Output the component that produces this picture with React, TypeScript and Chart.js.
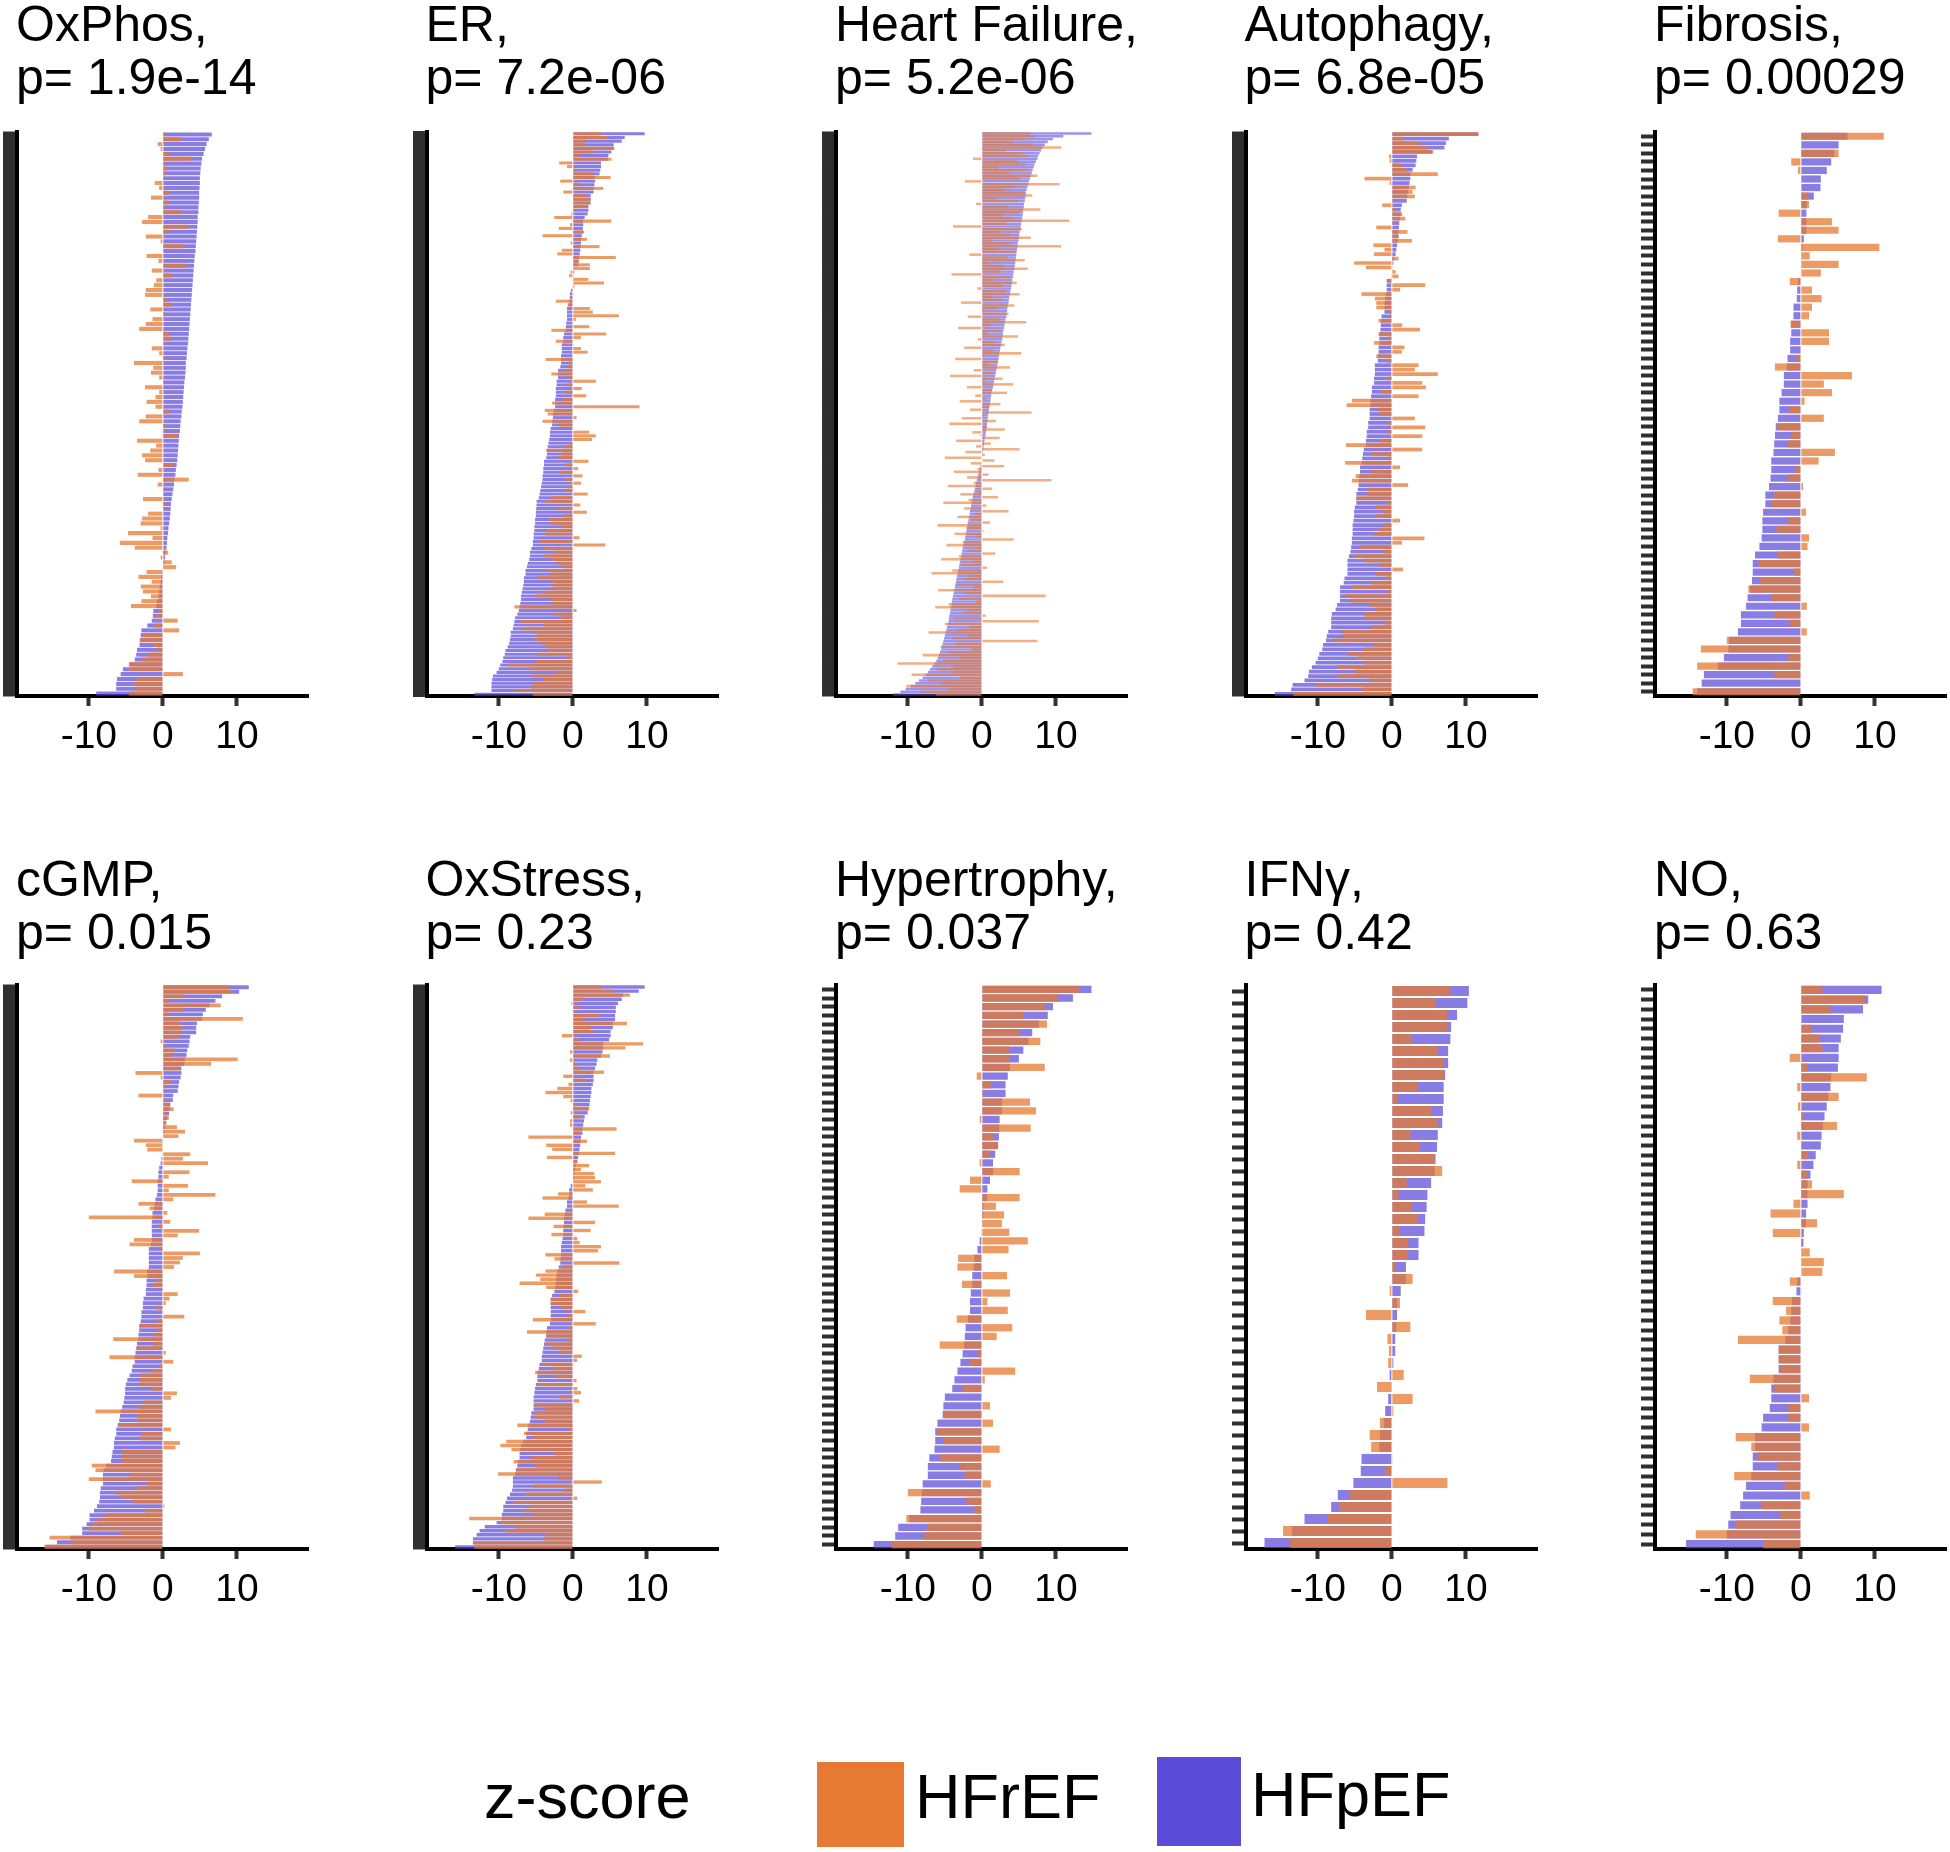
import React, { useEffect, useRef } from "react";
import { Chart, registerables } from "chart.js";

Chart.register(...registerables);

// ---------------- data (z-scores per gene, genes sorted by HFpEF) ----------------
const xTicks = [-10, 0, 10];
const seriesNames = ["HFrEF", "HFpEF"];

const oxphosHFpEF = [6.6,6.2,5.9,5.7,5.5,5.3,5.2,5.1,5.05,5.0, 5.0,4.95,4.9,4.9,4.85,4.8,4.8,4.7,4.7,4.65, 4.6,4.55,4.5,4.45,4.4,4.3,4.25,4.2,4.15,4.1, 4.05,4.0,3.95,3.9,3.85,3.8,3.75,3.7,3.65,3.6, 3.55,3.5,3.45,3.4,3.3,3.25,3.2,3.1,3.1,3.05, 3.0,2.9,2.85,2.8,2.75,2.7,2.65,2.55,2.5,2.4, 2.35,2.3,2.2,2.15,2.1,2.05,2.0,1.95,1.85,1.75, 1.7,1.55,1.5,1.4,1.3,1.2,1.1,1.05,1.0,0.95, 0.85,0.75,0.7,0.6,0.55,0.5,0.4,0.3,0.2,0.1, -0.1,-0.2,-0.3,-0.4,-0.5,-0.6,-0.8,-0.9,-1.3,-1.35, -1.5,-2.1,-2.9,-3.0,-3.1,-3.15,-3.5,-3.6,-3.8,-4.5, -5.4,-5.7,-6.2,-6.3,-6.3,-9.0];
const oxphosHFrEF = [0.3,2.5,-0.7,-0.3,0.9,3.8,0.2,0.6,0.4,0.2, -1.1,-0.5,0.8,-1.6,0.8,0.2,2.5,-2.0,-2.8,3.3, 0.6,-2.3,-0.3,2.8,0.1,-2.2,-0.6,3.2,-1.5,1.3, -0.9,-1.2,-2.3,-2.4,0.5,1.1,-1.7,0.4,-1.4,-2.3, -3.2,0.8,1.1,0.1,-1.5,-0.5,0.3,-3.9,-1.3,-1.6, -0.5,0.2,-2.4,-0.5,-1.0,-2.2,-1.0,0.9,-2.3,-3.2, 0.5,-0.1,2.1,-3.5,-0.9,-1.7,-2.8,-2.4,1.4,-0.6, -3.4,3.5,-0.7,0.2,0.1,-2.7,0.5,0.2,-2.0,-2.8, -3.0,-0.3,-4.7,-1.4,-5.8,-3.8,0.7,-0.3,1.2,1.8, -2.2,-3.3,-1.5,-3.0,-2.7,-1.6,-2.9,-4.3,-0.5,-1.0, 2.0,-1.2,2.2,-2.6,-3.1,-1.4,-0.7,-2.0,-2.8,-4.6, -4.6,2.7,-3.5,-4.0,-3.7,-4.6];

const erHFpEF = [9.7,7.0,6.6,5.5,5.5,5.2,4.8,4.7,3.8,3.8, 3.7,3.6,3.0,3.0,2.9,2.8,2.8,2.4,2.4,2.4, 2.1,2.1,2.0,1.6,1.4,1.4,1.35,1.35,1.2,1.1, 1.1,1.1,1.0,0.95,0.8,0.8,0.7,0.1,0.2,0.1, 0.05,0.0,-0.05,-0.2,-0.4,-0.4,-0.5,-0.6,-0.8,-0.8, -0.8,-0.8,-0.9,-0.95,-1.0,-1.2,-1.3,-1.3,-1.5,-1.5, -1.5,-1.6,-1.6,-1.6,-1.7,-2.0,-2.0,-2.0,-2.2,-2.2, -2.3,-2.3,-2.3,-2.4,-2.4,-2.4,-2.6,-2.7,-2.7,-2.8, -2.8,-3.0,-3.1,-3.1,-3.2,-3.3,-3.4,-3.5,-3.5,-3.6, -3.9,-3.9,-4.0,-4.0,-4.1,-4.1,-4.2,-4.3,-4.4,-4.5, -4.6,-4.9,-4.9,-4.95,-5.0,-5.0,-5.1,-5.1,-5.2,-5.2, -5.3,-5.3,-5.4,-5.4,-5.6,-5.8,-5.8,-5.9,-6.1,-6.2, -6.4,-6.4,-6.6,-6.6,-6.7,-6.8,-6.9,-7.0,-7.0,-7.1, -7.2,-7.3,-7.5,-7.8,-7.9,-8.0,-8.1,-8.4,-8.4,-8.5, -8.6,-8.8,-9.1,-9.2,-9.4,-9.5,-9.8,-10.0,-10.3,-10.8, -10.9,-11.0,-11.0,-11.0,-13.3];
const erHFrEF = [3.8,4.7,1.7,1.7,5.6,2.8,0.8,5.2,-1.85,-0.8, 0.5,2.8,5.1,-1.7,0.9,4.1,-1.3,1.8,2.4,2.3, 2.0,0.3,-0.2,-2.5,5.2,-0.4,-1.9,1.5,-4.1,1.9, -0.3,3.6,-1.5,-2.1,5.8,0.8,2.3,2.3,-0.3,-0.5, 2.1,4.2,0.2,-0.3,0.1,-0.2,-2.3,-0.7,2.3,2.7, 6.2,0.4,-0.2,2.2,-2.9,4.5,1.1,-2.3,0.1,1.1, 2.0,0.0,-3.7,-0.5,-0.7,-1.0,-2.9,-0.6,3.1,-0.8, 1.2,-1.1,1.8,-1.4,-2.8,9.0,-3.8,-3.4,0.5,-4.1, -1.8,0.0,2.2,3.1,2.6,-0.5,-1.2,-3.6,-1.5,-2.0, 2.1,-1.0,0.7,-1.9,1.3,-0.9,1.1,-0.8,-1.0,2.0, -2.9,-3.8,1.0,-2.2,1.9,-1.2,-3.2,-3.0,-1.5,-3.6, -3.7,0.9,-4.5,4.4,-3.9,-2.3,-4.0,-3.0,-2.0,-1.3, -3.5,-3.0,-4.8,-3.0,-2.5,-3.1,-4.1,-5.1,-3.1,-2.6, -7.9,0.5,-2.6,-1.5,-7.1,-3.9,-6.8,-5.3,-4.8,-5.3, -4.3,-3.6,-3.5,-4.8,-0.8,-5.0,-8.8,-5.8,-2.4,-5.5, -4.0,-5.4,-5.6,-7.9,-5.4];

const hfHFpEF = [14.8,11.0,9.6,8.9,8.5,8.2,8.0,7.8,7.6,7.5, 7.3,7.1,7.0,6.85,6.75,6.6,6.5,6.35,6.25,6.15, 6.05,5.95,5.9,5.85,5.8,5.7,5.65,5.6,5.55,5.5, 5.45,5.4,5.3,5.25,5.2,5.1,5.05,5.0,4.95,4.85, 4.8,4.75,4.7,4.65,4.6,4.55,4.5,4.45,4.4,4.3, 4.25,4.2,4.1,4.05,4.0,3.95,3.85,3.8,3.7,3.65, 3.6,3.5,3.45,3.4,3.35,3.3,3.2,3.1,3.05,3.0, 2.9,2.85,2.8,2.75,2.65,2.6,2.5,2.45,2.35,2.3, 2.25,2.15,2.1,2.05,1.95,1.9,1.8,1.7,1.65,1.55, 1.5,1.4,1.3,1.25,1.2,1.15,1.1,1.0,0.95,0.9, 0.85,0.8,0.75,0.7,0.65,0.6,0.55,0.5,0.4,0.35, 0.3,0.25,0.2,0.15,0.1,0.05,0.0,-0.1,-0.2,-0.3, -0.4,-0.5,-0.6,-0.7,-0.8,-0.85,-0.95,-1.05,-1.15,-1.25, -1.3,-1.4,-1.45,-1.5,-1.6,-1.65,-1.75,-1.8,-1.9,-1.95, -2.0,-2.1,-2.15,-2.25,-2.3,-2.4,-2.5,-2.6,-2.65,-2.75, -2.8,-2.9,-2.95,-3.05,-3.1,-3.2,-3.3,-3.35,-3.45,-3.5, -3.6,-3.65,-3.75,-3.8,-3.9,-4.0,-4.05,-4.1,-4.2,-4.25, -4.3,-4.4,-4.45,-4.5,-4.6,-4.7,-4.8,-4.9,-5.0,-5.1, -5.2,-5.3,-5.4,-5.5,-5.65,-5.8,-5.95,-6.15,-6.4,-6.7, -7.0,-7.3,-7.6,-8.0,-8.5,-9.0,-9.6,-10.3,-11.0,-12.0];
const hfHFrEF = [6.5,7.2,5.8,4.1,6.9,10.7,3.2,5.5,6.1,-1.2, 4.8,5.9,2.1,6.3,3.7,7.5,5.2,-2.3,10.5,4.4, 3.1,5.6,6.8,1.9,4.9,-0.8,3.6,7.9,5.0,2.8, 4.2,11.8,3.3,-3.9,5.4,2.6,4.0,6.6,1.4,3.9, 10.7,2.2,4.6,-1.7,3.5,5.8,0.9,3.0,6.2,2.5, -4.1,3.8,1.6,4.7,2.9,-0.6,3.3,5.1,1.2,2.7, -2.8,4.4,2.0,0.4,3.6,-1.9,2.4,6.0,1.1,-3.2, 2.6,0.8,4.9,-0.5,1.8,3.1,-2.4,1.5,5.3,0.2, -3.6,2.2,0.9,3.8,-1.1,1.6,-4.3,2.8,0.5,4.2, -2.0,1.3,3.4,-0.9,0.6,-3.0,2.5,1.0,-1.6,6.7, 0.3,-2.7,1.9,-4.4,0.7,3.1,-1.3,-0.2,2.4,-3.5, 1.2,-0.8,5.1,-2.2,0.4,-5.0,1.7,-1.5,3.0,-0.6, -3.8,0.9,-2.0,9.4,-1.1,-4.6,1.4,-0.7,-2.9,2.2, -1.8,-5.2,0.6,-2.4,3.6,-0.9,-3.3,-1.4,1.1,-6.0, -2.1,0.2,-3.7,-1.0,4.3,-2.6,-4.8,-0.5,-1.9,1.8, -3.1,-5.5,-1.2,-2.8,0.7,-4.0,-6.8,-1.7,-2.5,2.9, -3.4,-1.1,-5.9,-2.2,8.6,-3.0,-0.8,-4.5,-6.3,-1.9, -2.7,0.5,-3.9,7.7,-5.0,-1.6,-3.3,-7.2,-2.0,-4.1, 7.5,-3.5,-5.6,-1.4,-4.4,-8.0,-2.9,-5.2,-11.4,-3.8, -6.1,-4.2,-9.5,-3.0,-7.4,-5.5,-10.2,-4.6,-8.3,-6.2];

const autophagyHFpEF = [11.7,7.7,7.3,7.1,5.4,3.4,3.3,3.2,2.8,2.5, 2.5,2.4,2.3,2.2,2.1,2.0,1.35,1.2,1.2,1.1, 1.0,0.95,0.9,0.9,0.8,0.7,0.6,0.5,0.3,0.2, 0.1,0.0,-0.1,-0.7,-0.7,-0.7,-0.8,-0.9,-1.0,-1.0, -1.0,-1.4,-1.5,-1.5,-1.55,-1.7,-1.7,-1.7,-1.8,-1.8, -1.9,-1.9,-2.3,-2.3,-2.3,-2.4,-2.4,-2.7,-2.7,-2.8, -2.9,-2.9,-3.0,-3.0,-3.0,-3.2,-3.2,-3.4,-3.4,-3.5, -3.5,-3.8,-3.9,-4.0,-4.1,-4.3,-4.3,-4.4,-4.45,-4.5, -4.6,-4.8,-4.8,-4.8,-5.0,-5.1,-5.1,-5.2,-5.3,-5.3, -5.3,-5.4,-5.4,-5.5,-5.6,-5.8,-6.0,-6.0,-6.0,-6.0, -6.4,-6.5,-7.0,-7.0,-7.0,-7.0,-7.4,-7.6,-8.1,-8.2, -8.2,-8.2,-8.6,-8.8,-8.9,-9.3,-9.4,-9.8,-10.0,-10.3, -10.8,-11.2,-11.3,-11.8,-13.4,-13.6,-15.8];
const autophagyHFrEF = [11.6,1.6,3.6,4.7,5.6,-0.4,-0.3,1.3,2.0,6.2, -3.7,-0.3,3.2,2.8,3.1,0.2,-1.3,0.5,1.4,1.8, 0.3,-2.1,2.1,0.9,2.7,-2.5,-1.0,-2.4,0.9,-5.1, -3.5,0.5,0.9,-0.5,4.5,1.1,-4.1,-2.3,-2.1,-2.1, -0.4,-0.2,-1.8,1.4,3.8,-1.8,-0.5,-2.4,1.7,1.35, -2.1,-0.7,3.6,3.1,6.2,-0.6,4.1,4.6,-1.5,3.6, -5.4,-6.1,-1.8,-1.8,3.1,-0.6,4.5,-0.6,4.1,-1.7, -6.2,4.1,-2.8,-0.5,-6.3,1.1,-2.8,-4.9,-5.4,2.2, -3.4,-3.2,-4.8,-0.5,-2.2,-1.1,-2.2,1.1,-1.1,-1.8, -2.5,4.4,1.35,-4.3,-1.1,-5.1,-3.8,-1.7,1.5,-2.2, -0.8,-2.8,-5.5,-0.5,-6.2,-5.6,-3.1,-2.1,-3.8,-3.6, -1.0,-2.8,-6.8,-6.5,-7.9,-2.4,-3.9,-6.0,-4.6,-3.7, -7.3,-5.0,-7.3,-3.0,-10.2,-4.0,-13.3];

const fibrosisHFpEF = [6.3,5.1,4.5,4.1,3.5,2.7,2.65,1.75,0.8,0.75, 0.75,0.75,0.4,0.2,0.1,0.1,0.0,-0.4,-0.5,-0.55, -1.0,-1.0,-1.3,-1.3,-1.45,-1.45,-1.8,-1.9,-2.3,-2.3, -2.6,-2.9,-2.9,-3.1,-3.4,-3.5,-3.6,-3.7,-4.0,-4.0, -4.1,-4.3,-4.8,-4.8,-5.1,-5.2,-5.2,-5.3,-5.6,-6.2, -6.5,-6.5,-6.6,-6.9,-7.2,-7.4,-8.1,-8.1,-8.5,-9.7, -9.8,-10.4,-11.2,-13.1,-13.4,-14.0];
const fibrosisHFrEF = [11.2,0.0,5.1,-1.3,-0.4,0.1,0.0,1.0,1.1,-3.0, 4.2,5.1,-3.1,10.6,1.2,5.1,2.7,-1.5,1.5,2.8, 1.5,1.1,-1.4,3.8,3.8,-0.2,-0.6,-3.5,6.9,3.1, 4.2,0.5,-1.6,3.1,-3.2,-1.3,-1.8,4.6,2.4,-0.7, -1.7,0.3,-3.6,-4.0,0.7,-1.7,-3.3,1.1,0.9,-3.2, -5.7,-0.9,-5.5,-7.1,-4.0,0.8,-3.6,-1.5,0.8,-10.0, -13.5,-1.7,-14.0,-3.6,-0.1,-14.6];

const cgmpHFpEF = [11.6,10.3,8.0,7.1,6.3,5.8,5.4,5.3,4.6,4.5, 4.5,3.7,3.6,3.5,3.3,3.2,3.0,2.9,2.5,2.5, 2.4,2.2,2.1,2.0,1.4,1.35,1.0,0.9,0.85,0.6, 0.4,0.3,0.2,0.1,0.05,0.0,-0.05,-0.1,-0.2,-0.3, -0.5,-0.6,-0.6,-0.7,-0.7,-0.7,-0.8,-1.0,-1.1,-1.2, -1.4,-1.4,-1.5,-1.5,-1.5,-1.5,-1.5,-1.6,-1.9,-1.9, -1.9,-1.9,-1.9,-2.1,-2.1,-2.2,-2.2,-2.3,-2.3,-2.6, -2.7,-2.7,-2.9,-2.9,-3.0,-3.2,-3.2,-3.3,-3.3,-3.5, -3.6,-3.7,-3.8,-3.8,-4.1,-4.2,-4.5,-4.8,-5.0,-5.1, -5.1,-5.2,-5.3,-5.5,-5.7,-5.8,-5.9,-6.1,-6.3,-6.3, -6.5,-6.6,-6.6,-6.8,-6.9,-7.0,-7.7,-8.0,-8.1,-8.1, -8.1,-8.4,-8.5,-8.5,-8.6,-8.9,-9.3,-9.9,-9.9,-10.3, -10.9,-10.9,-12.5,-14.3,-15.8];
const cgmpHFrEF = [8.9,9.2,2.9,0.8,7.8,2.7,0.8,10.8,2.3,2.8, 2.5,2.1,-0.3,0.3,1.7,1.2,10.1,6.5,2.3,-3.7, -0.3,1.1,0.5,0.2,-3.3,0.3,1.0,1.45,0.4,0.8, 0.5,1.9,3.0,2.1,-3.9,-2.3,-2.1,3.7,2.7,6.1, 0.1,3.6,0.8,-4.2,3.4,0.8,7.1,1.4,-3.3,-1.8, 0.6,-10.0,1.0,-0.6,4.9,2.0,-3.9,-4.5,-0.5,5.0, 2.7,2.3,1.5,-6.6,-3.9,-0.9,-1.5,-0.3,2.0,0.9, 0.4,-0.9,0.1,2.9,-0.8,-3.1,-0.7,-1.3,-6.7,-1.2, -3.4,0.4,-7.2,1.4,-0.4,-1.6,-3.0,-3.1,-3.1,-1.5, 1.9,1.1,-2.6,-3.3,-9.1,-3.5,-3.5,-6.0,1.1,-2.9, -3.1,2.3,1.7,-5.6,-5.6,-5.6,-9.6,-9.1,-4.5,-10.0, -2.1,-3.6,-6.4,-5.6,-4.0,0.2,-2.4,-7.7,-8.8,-9.5, -10.1,-5.7,-15.3,-12.3,-16.0];

const oxstressHFpEF = [9.7,8.9,6.8,6.6,6.1,5.8,5.8,5.7,5.7,5.4, 5.4,5.1,5.1,4.9,4.1,4.1,4.0,3.8,3.3,3.2, 3.0,2.8,2.8,2.8,2.7,2.5,2.5,2.4,2.3,2.25, 2.1,2.0,1.6,1.5,1.4,1.3,1.3,1.1,1.1,1.0, 0.9,0.85,0.7,0.6,0.4,0.3,0.2,0.2,0.1,-0.3, -0.5,-0.5,-0.6,-0.8,-0.8,-1.0,-1.1,-1.2,-1.2,-1.3, -1.3,-1.3,-1.4,-1.5,-1.6,-1.6,-1.6,-1.7,-1.7,-1.9, -2.1,-2.2,-2.3,-2.3,-2.4,-2.5,-2.8,-3.0,-3.0,-3.0, -3.0,-3.0,-3.0,-3.1,-3.5,-3.6,-3.6,-3.8,-3.9,-4.0, -4.1,-4.2,-4.2,-4.5,-4.6,-4.8,-4.8,-4.8,-5.0,-5.1, -5.2,-5.3,-5.3,-5.3,-5.3,-5.6,-5.7,-5.8,-6.0,-6.1, -6.3,-6.3,-6.7,-7.0,-7.1,-7.2,-7.2,-7.4,-7.5,-7.7, -7.8,-8.1,-8.1,-8.1,-8.2,-8.5,-8.9,-9.1,-9.4,-9.4, -9.6,-9.6,-10.3,-11.9,-12.6,-13.0,-13.5,-13.5,-15.9];
const oxstressHFrEF = [3.8,5.5,7.7,1.5,-0.2,0.9,-0.1,3.6,1.4,7.3, 2.4,2.8,-1.5,0.8,9.5,7.1,-0.4,5.0,-0.4,0.3, 0.9,4.2,-1.3,1.8,-0.6,-2.1,-3.7,-1.3,-0.3,0.5, 2.2,-0.3,1.0,-0.4,-0.4,5.9,0.8,-6.0,1.9,-3.6, -2.8,5.7,-3.5,0.6,2.2,1.1,2.9,3.0,3.8,1.7, 2.7,-2.0,-4.1,1.9,6.2,-0.3,-3.8,-6.0,3.0,-2.6, 2.4,-2.9,0.6,0.9,3.8,3.4,-3.7,-2.5,6.3,-1.5, -3.7,-5.0,-4.4,-7.2,-3.6,0.7,-1.9,-3.0,-3.0,-1.6, 1.7,-0.8,-5.4,3.1,-0.5,-6.2,-3.6,-0.8,-3.6,-2.7, -1.7,1.2,0.6,-4.2,-2.6,-5.1,-2.2,0.5,-4.9,0.6, 1.1,-1.9,0.85,-5.2,-3.8,-5.0,-5.4,-3.8,-7.5,-0.5, -6.6,-5.3,-9.0,-9.8,-8.3,-2.6,-5.7,-8.0,-5.0,-7.6, -10.1,-2.1,3.9,-5.3,-1.0,-6.4,0.6,-8.0,-5.8,-6.6, -5.3,-14.0,-9.7,-7.8,-9.0,-3.7,-4.0,-13.3,-13.3];

const hypertrophyHFpEF = [14.8,12.3,9.6,8.9,7.7,6.8,6.3,5.6,5.0,3.8, 3.5,3.2,3.2,2.7,2.7,2.4,2.35,2.3,2.2,1.8, 1.5,1.5,1.1,0.75,0.7,0.2,0.2,0.1,-0.1,-0.3, -0.6,-1.0,-1.1,-1.3,-1.3,-1.5,-1.6,-1.6,-1.9,-2.2, -2.3,-2.4,-2.6,-2.9,-3.3,-3.7,-4.0,-5.0,-5.2,-5.3, -6.0,-6.3,-6.3,-6.4,-7.1,-7.3,-7.3,-8.0,-8.1,-8.2, -8.3,-9.8,-11.3,-11.7,-14.6];
const hypertrophyHFrEF = [13.1,10.3,8.6,5.6,8.8,5.0,7.9,3.7,3.7,8.5, -0.7,1.2,0.3,6.5,7.3,-0.3,6.6,1.5,2.1,1.0, -0.3,5.1,-1.6,-3.0,5.1,1.9,3.0,2.7,3.7,6.2, 3.6,-3.2,-3.3,3.4,-2.7,3.8,0.75,3.5,-3.4,4.1, 2.0,-5.7,-0.5,-1.6,4.5,0.4,-2.6,-0.1,1.1,-5.2, 1.5,-6.0,-5.2,2.4,-5.6,-3.1,-2.2,1.2,-10.0,-2.1, -1.0,-10.2,-7.4,-7.8,-12.2];

const ifngHFpEF = [10.4,10.2,8.8,8.0,7.9,7.6,7.6,7.2,7.0,7.0, 6.9,6.8,6.2,6.1,5.9,5.8,5.3,4.8,4.7,4.5, 4.4,3.6,3.6,1.9,1.9,1.2,0.7,0.7,0.6,0.45, 0.45,0.2,-0.3,-0.1,-0.5,-0.9,-1.1,-1.6,-1.7,-4.1, -4.2,-5.2,-7.3,-8.2,-11.8,-13.5,-17.2];
const ifngHFrEF = [7.9,5.9,7.5,7.5,2.6,6.2,7.0,7.1,3.4,0.7, 5.3,6.1,2.5,3.8,5.8,6.8,2.0,0.9,2.6,3.5, 1.1,2.2,2.1,0.45,2.8,-0.3,1.1,-3.5,2.5,-0.6, -0.4,-0.5,1.6,-2.0,2.8,0.2,-1.6,-3.0,-2.8,0.1, -0.9,7.5,-5.7,-7.1,-8.7,-14.7,-13.8];

const noHFpEF = [10.9,9.1,8.4,5.8,5.7,5.4,5.1,5.1,5.0,4.1, 4.0,3.7,3.5,3.2,3.0,2.8,2.7,2.0,1.7,1.3, 0.9,0.9,0.9,0.7,0.7,0.4,0.35,0.1,0.1,0.0, -0.5,-0.6,-1.2,-1.3,-1.4,-1.7,-2.1,-3.0,-3.0,-3.0, -3.7,-4.0,-4.0,-4.2,-5.1,-5.3,-6.2,-6.2,-6.5,-6.5, -6.7,-7.4,-7.8,-8.2,-9.5,-9.8,-10.0,-15.5];
const noHFrEF = [2.9,8.7,4.0,0.0,1.4,2.5,2.9,-1.5,0.9,8.9, -0.5,5.1,-0.4,0.3,4.9,-0.5,0.2,1.0,-0.5,0.8, 1.5,5.8,-1.0,-4.1,2.2,-3.8,0.2,1.2,3.1,2.9, -1.5,0.1,-3.8,-2.0,-2.9,-2.5,-8.5,-3.0,-3.0,-2.8, -6.9,-3.6,1.1,-1.7,-1.7,1.1,-8.8,-6.7,-5.8,-3.2, -9.0,-2.2,1.2,-5.4,-2.8,-8.8,-14.2,-5.1];

const panelNames = ["OxPhos,", "ER,", "Heart Failure,", "Autophagy,", "Fibrosis,", "cGMP,", "OxStress,", "Hypertrophy,", "IFNγ,", "NO,"];
const pValues = ["p= 1.9e-14", "p= 7.2e-06", "p= 5.2e-06", "p= 6.8e-05", "p= 0.00029", "p= 0.015", "p= 0.23", "p= 0.037", "p= 0.42", "p= 0.63"];
const hfrefSeries = [oxphosHFrEF, erHFrEF, hfHFrEF, autophagyHFrEF, fibrosisHFrEF, cgmpHFrEF, oxstressHFrEF, hypertrophyHFrEF, ifngHFrEF, noHFrEF];
const hfpefSeries = [oxphosHFpEF, erHFpEF, hfHFpEF, autophagyHFpEF, fibrosisHFpEF, cgmpHFpEF, oxstressHFpEF, hypertrophyHFpEF, ifngHFpEF, noHFpEF];

// ---------------- styles ----------------
const FONT = "'Liberation Sans', Arial, Helvetica, sans-serif";
const ORANGE_SOLID = "#E67A32";
const PURPLE_SOLID = "#5B4BD9";

const COL_STEP = 409.5;
const ROW_STEP = 853;
const CANVAS_W = 312;
const CANVAS_H = 640;
const PLOT_H = 564;

function Panel({ idx }: { idx: number }) {
  const ref = useRef<HTMLCanvasElement | null>(null);
  const col = idx % 5;
  const row = Math.floor(idx / 5);
  const axisX = 17 + COL_STEP * col;
  const left = Math.round(axisX - 17);
  const top = 128 + ROW_STEP * row;

  useEffect(() => {
    const hfref = hfrefSeries[idx];
    const hfpef = hfpefSeries[idx];
    const labels = hfpef.map((_, i) => String(i + 1));
    const n = hfpef.length;
    const spacing = PLOT_H / n;
    const veryDense = n > 180;
    const tickW = spacing < 6 ? Math.ceil(spacing) + 1 : 4;
    const orange = veryDense ? "rgba(230,122,50,0.6)" : "rgba(230,122,50,0.75)";
    const purple = veryDense ? "rgba(91,75,217,0.6)" : "rgba(91,75,217,0.72)";
    const bp = veryDense ? 0.9 : 0.84;
    const chart = new Chart(ref.current as HTMLCanvasElement, {
      type: "bar",
      data: {
        labels,
        datasets: [
          {
            label: seriesNames[0],
            data: hfref,
            backgroundColor: orange,
            borderWidth: 0,
            grouped: false,
            barPercentage: bp,
            categoryPercentage: 1,
          } as any,
          {
            label: seriesNames[1],
            data: hfpef,
            backgroundColor: purple,
            borderWidth: 0,
            grouped: false,
            barPercentage: bp,
            categoryPercentage: 1,
          } as any,
        ],
      },
      options: {
        indexAxis: "y",
        animation: false,
        responsive: false,
        maintainAspectRatio: false,
        events: [],
        layout: { padding: { top: 4, right: 4, left: 0, bottom: 0 } },
        plugins: {
          legend: { display: false },
          tooltip: { enabled: false },
          title: { display: false },
        },
        scales: {
          x: {
            type: "linear",
            min: -19.7,
            max: 19.6,
            afterBuildTicks: (s: any) => {
              s.ticks = xTicks.map((v) => ({ value: v }));
            },
            afterFit: (s: any) => {
              s.height = 72;
            },
            grid: {
              drawOnChartArea: false,
              drawTicks: true,
              tickLength: 10,
              tickWidth: 4,
              tickColor: "#333333",
            },
            border: { display: true, color: "#000000", width: 4 },
            ticks: {
              color: "#000000",
              font: { size: 39, family: FONT },
              padding: 8,
              maxRotation: 0,
              autoSkip: false,
              callback: (v: any) => String(v),
            },
          },
          y: {
            type: "category",
            afterFit: (s: any) => {
              s.width = 17;
            },
            grid: {
              drawOnChartArea: false,
              offset: false,
              drawTicks: true,
              tickLength: 14,
              tickWidth: tickW,
              tickColor: "#2f2f2f",
            },
            border: { display: true, color: "#000000", width: 4 },
            ticks: { display: false },
          },
        },
      } as any,
    });
    return () => chart.destroy();
  }, [idx]);

  return (
    <>
      <div
        style={{
          position: "absolute",
          left: axisX - 1,
          top: -2 + 855 * row,
          fontFamily: FONT,
          fontSize: 50,
          lineHeight: "53px",
          color: "#000",
          whiteSpace: "nowrap",
        }}
      >
        <div>{panelNames[idx]}</div>
        <div>{pValues[idx]}</div>
      </div>
      <canvas
        ref={ref}
        width={CANVAS_W}
        height={CANVAS_H}
        style={{ position: "absolute", left, top, width: CANVAS_W, height: CANVAS_H }}
      />
    </>
  );
}

function Legend() {
  const text: React.CSSProperties = {
    position: "absolute",
    fontFamily: FONT,
    fontSize: 63,
    lineHeight: "63px",
    color: "#000",
    whiteSpace: "nowrap",
  };
  return (
    <>
      <div style={{ ...text, left: 484, top: 1765 }}>z-score</div>
      <div style={{ position: "absolute", left: 817, top: 1762, width: 87, height: 85, background: ORANGE_SOLID }} />
      <div style={{ ...text, left: 915, top: 1765 }}>{seriesNames[0]}</div>
      <div style={{ position: "absolute", left: 1157, top: 1757, width: 84, height: 89, background: PURPLE_SOLID }} />
      <div style={{ ...text, left: 1251, top: 1763 }}>{seriesNames[1]}</div>
    </>
  );
}

export default function App() {
  return (
    <div
      style={{
        position: "absolute",
        left: 0,
        top: 0,
        width: 1950,
        height: 1852,
        background: "#ffffff",
        overflow: "hidden",
      }}
    >
      {panelNames.map((_, i) => (
        <Panel key={i} idx={i} />
      ))}
      <Legend />
    </div>
  );
}
